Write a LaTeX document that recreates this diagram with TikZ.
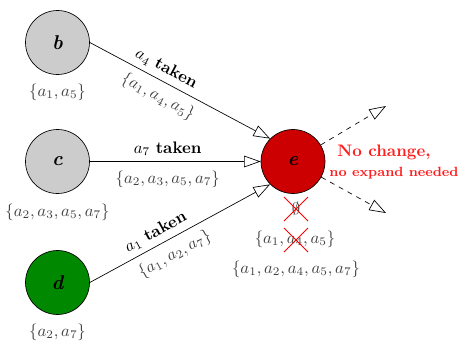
\documentclass[tikz,border=0pt]{standalone}
\usetikzlibrary{arrows.meta}
\definecolor{setgray}{gray}{0.25}
\definecolor{nodered}{RGB}{204,0,0}
\definecolor{nodegreen}{RGB}{0,136,0}
\definecolor{notered}{RGB}{255,30,30}
\begin{document}
\begin{tikzpicture}[x=0.6pt,y=-0.6pt,
  state/.style={circle,draw=black,minimum size=38.4pt,inner sep=0pt,font=\large\bfseries\itshape},
  setlabel/.style={text=setgray},
  edgeline/.style={draw=black,-{Triangle[open,length=10pt,width=7pt]}},
  probe/.style={draw=black,dashed,-{Triangle[open,length=10pt,width=7pt]}},
  crossout/.style={draw=red,line width=0.5pt}]
\useasboundingbox (0,0) rectangle (458,341);

% states
\node[state,fill=black!20]  (b) at (57.5,42.5)  {b};
\node[state,fill=black!20]  (c) at (57.5,161.5) {c};
\node[state,fill=nodegreen] (d) at (57.5,282.5) {d};
\node[state,fill=nodered]   (e) at (293,161.5) {e};

% sets below the left states
\node[setlabel] (sb) at (57.5,92)  {$\{a_1,a_5\}$};
\node[setlabel] (sc) at (57.5,212) {$\{a_2,a_3,a_5,a_7\}$};
\node[setlabel] (sd) at (57.5,332) {$\{a_2,a_7\}$};

% incoming transitions into e
\draw[edgeline] (b.east) -- (e.north west)
  node[pos=0.39,sloped,above] (lb) {$a_4$ \textbf{taken}}
  node[pos=0.42,sloped,below=1pt,setlabel] (lbs) {$\{a_1,a_4,a_5\}$};
\draw[edgeline] (c.east) -- (e.west)
  node[pos=0.456,above] (lc) {$a_7$ \textbf{taken}}
  node[pos=0.456,below=2pt,setlabel] (lcs) {$\{a_2,a_3,a_5,a_7\}$};
\draw[edgeline] (d.east) -- (e.south west)
  node[pos=0.40,sloped,above] (ld) {$a_1$ \textbf{taken}}
  node[pos=0.43,sloped,below=1pt,setlabel] (lds) {$\{a_1,a_2,a_7\}$};

% outgoing probes from e
\coordinate (up) at (386,106);
\coordinate (dn) at (386,213);
\draw[probe] (e) -- (up);
\draw[probe] (e) -- (dn);

\node[text=notered,font=\bfseries] (nc) at (384,152) {No change,};
\node[text=notered,font=\bfseries\footnotesize] (ne) at (394,173) {no expand needed};

% sets below e
\node[setlabel] (se0) at (296,209) {$\emptyset$};
\node[setlabel] (se1) at (295,239) {$\{a_1,a_4,a_5\}$};
\node[setlabel] (se2) at (296,269) {$\{a_1,a_2,a_4,a_5,a_7\}$};

% crossed-out entries
\draw[crossout] (284,197) -- (308,221) (284,221) -- (308,197);
\draw[crossout] (284,228) -- (308,252) (284,252) -- (308,228);
\end{tikzpicture}
\end{document}
